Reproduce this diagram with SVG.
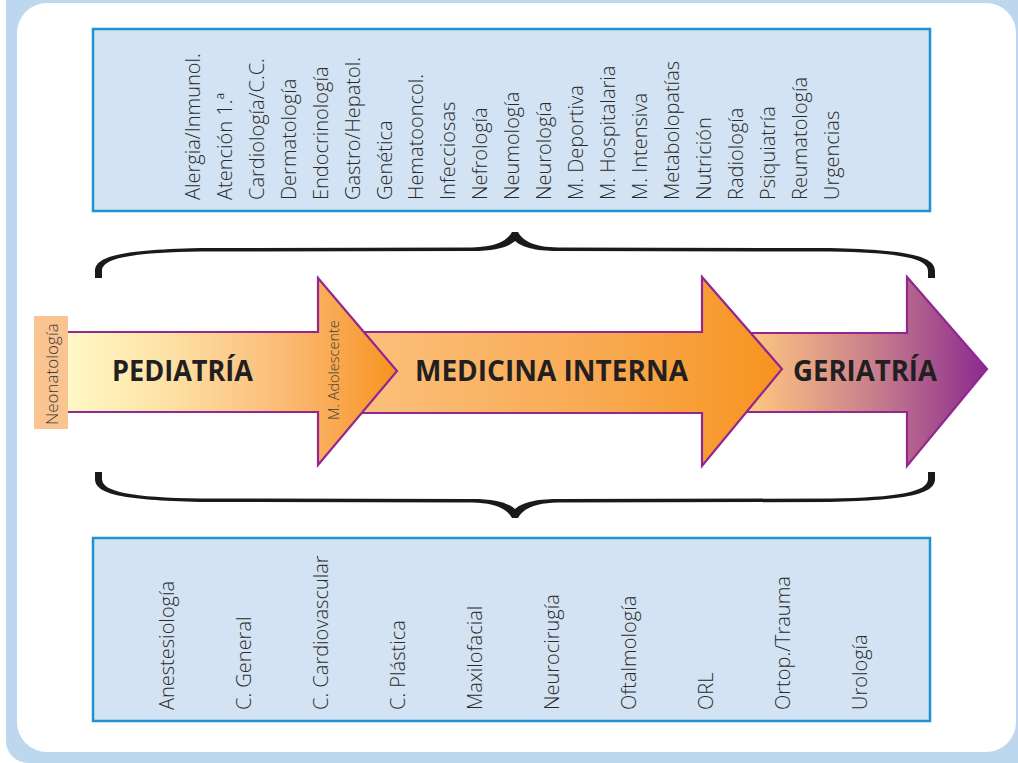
<svg xmlns="http://www.w3.org/2000/svg" width="1018" height="763" viewBox="0 0 1018 763">
  <style>
    .spec { font-family: "Open Sans", "Liberation Sans", sans-serif; font-size: 20px; font-weight: 300; fill: #2a2a2a; }
    .box { fill: #d3e3f3; stroke: #1f93d1; stroke-width: 2.5; }
    .arrow { stroke: #92278f; stroke-width: 2.2; stroke-linejoin: miter; }
    .big { font-family: "Open Sans", "Liberation Sans", sans-serif; font-size: 28px; font-weight: 700; fill: #231f20; }
    .small { font-family: "Open Sans", "Liberation Sans", sans-serif; font-weight: 300; fill: #3a3a3a; }
    .brace { fill: #1a1a1a; }
  </style>
  <defs>
    <linearGradient id="gPed" gradientUnits="userSpaceOnUse" x1="68" y1="0" x2="397" y2="0">
      <stop offset="0" stop-color="#fff8c6"/>
      <stop offset="0.3" stop-color="#fde2a5"/>
      <stop offset="0.6" stop-color="#fbc17f"/>
      <stop offset="0.82" stop-color="#f9a84f"/>
      <stop offset="1" stop-color="#f7921e"/>
    </linearGradient>
    <linearGradient id="gMed" gradientUnits="userSpaceOnUse" x1="360" y1="0" x2="782" y2="0">
      <stop offset="0" stop-color="#fbc07d"/>
      <stop offset="0.6" stop-color="#f8a84e"/>
      <stop offset="1" stop-color="#f7931e"/>
    </linearGradient>
    <linearGradient id="gGer" gradientUnits="userSpaceOnUse" x1="750" y1="0" x2="987" y2="0">
      <stop offset="0" stop-color="#fdc77d"/>
      <stop offset="0.25" stop-color="#e6a586"/>
      <stop offset="0.55" stop-color="#c47a8c"/>
      <stop offset="1" stop-color="#8b2a8f"/>
    </linearGradient>
    <path id="halfBrace" d="M95,278 L95,271 C95,256 122,250 200,248 L472,247.5 C496,247 507,241 512,232 L515,232 L515,241 C508,247 496,251 472,251 L200,251.5 C132,252.5 102,258 102,271 L102,278 Z"/>
  </defs>

  <!-- frame -->
  <g id="frame">
    <rect x="6" y="-30" width="1050" height="793" rx="22" fill="#bdd7ee"/>
    <rect x="17" y="3" width="999" height="749" rx="30" fill="#ffffff"/>
  </g>

  <!-- top box -->
  <g id="medical-specialties">
    <rect class="box" x="93" y="29" width="837" height="182"/>
    <text class="spec" transform="translate(200,200) rotate(-90)">Alergia/Inmunol.</text>
    <text class="spec" transform="translate(232,200) rotate(-90)">Atención 1.ª</text>
    <text class="spec" transform="translate(264,200) rotate(-90)">Cardiología/C.C.</text>
    <text class="spec" transform="translate(296,200) rotate(-90)">Dermatología</text>
    <text class="spec" transform="translate(328,200) rotate(-90)">Endocrinología</text>
    <text class="spec" transform="translate(360,200) rotate(-90)">Gastro/Hepatol.</text>
    <text class="spec" transform="translate(392,200) rotate(-90)">Genética</text>
    <text class="spec" transform="translate(423,200) rotate(-90)">Hematooncol.</text>
    <text class="spec" transform="translate(455,200) rotate(-90)">Infecciosas</text>
    <text class="spec" transform="translate(487,200) rotate(-90)">Nefrología</text>
    <text class="spec" transform="translate(519,200) rotate(-90)">Neumología</text>
    <text class="spec" transform="translate(551,200) rotate(-90)">Neurología</text>
    <text class="spec" transform="translate(583,200) rotate(-90)">M. Deportiva</text>
    <text class="spec" transform="translate(615,200) rotate(-90)">M. Hospitalaria</text>
    <text class="spec" transform="translate(647,200) rotate(-90)">M. Intensiva</text>
    <text class="spec" transform="translate(679,200) rotate(-90)">Metabolopatías</text>
    <text class="spec" transform="translate(711,200) rotate(-90)">Nutrición</text>
    <text class="spec" transform="translate(743,200) rotate(-90)">Radiología</text>
    <text class="spec" transform="translate(775,200) rotate(-90)">Psiquiatría</text>
    <text class="spec" transform="translate(807,200) rotate(-90)">Reumatología</text>
    <text class="spec" transform="translate(839,200) rotate(-90)">Urgencias</text>
  </g>

  <!-- bottom box -->
  <g id="surgical-specialties">
    <rect class="box" x="93" y="538" width="837" height="183"/>
    <text class="spec" transform="translate(174,710) rotate(-90)">Anestesiología</text>
    <text class="spec" transform="translate(251,710) rotate(-90)">C. General</text>
    <text class="spec" transform="translate(328,710) rotate(-90)">C. Cardiovascular</text>
    <text class="spec" transform="translate(405,710) rotate(-90)">C. Plástica</text>
    <text class="spec" transform="translate(482,710) rotate(-90)">Maxilofacial</text>
    <text class="spec" transform="translate(559,710) rotate(-90)">Neurocirugía</text>
    <text class="spec" transform="translate(636,710) rotate(-90)">Oftalmología</text>
    <text class="spec" transform="translate(713,710) rotate(-90)">ORL</text>
    <text class="spec" transform="translate(790,710) rotate(-90)">Ortop./Trauma</text>
    <text class="spec" transform="translate(867,710) rotate(-90)">Urología</text>
  </g>

  <!-- connectors: braces -->
  <g id="connectors">
    <g id="brace-top">
      <use href="#halfBrace" class="brace"/>
      <use href="#halfBrace" class="brace" transform="translate(1030,0) scale(-1,1)"/>
    </g>
    <g id="brace-bottom" transform="translate(0,750) scale(1,-1)">
      <use href="#halfBrace" class="brace"/>
      <use href="#halfBrace" class="brace" transform="translate(1030,0) scale(-1,1)"/>
    </g>
  </g>

  <!-- arrows -->
  <g id="geriatria">
    <path class="arrow" fill="url(#gGer)" d="M740,333 L907,333 L907,277 L987,369 L907,466 L907,412 L740,412 Z"/>
    <text class="big" x="793" y="381" textLength="144" lengthAdjust="spacingAndGlyphs">GERIATRÍA</text>
  </g>
  <g id="medicina-interna">
    <path class="arrow" fill="url(#gMed)" d="M345,332 L702,332 L702,277 L782,369 L702,466 L702,413 L345,413 Z"/>
    <text class="big" x="415" y="381" textLength="273" lengthAdjust="spacingAndGlyphs">MEDICINA INTERNA</text>
  </g>
  <g id="pediatria">
    <path class="arrow" fill="url(#gPed)" d="M60,332 L318,332 L318,278 L397,371 L318,465 L318,412 L60,412 Z"/>
    <text class="big" x="112" y="381" textLength="141" lengthAdjust="spacingAndGlyphs">PEDIATRÍA</text>
    <text class="small" font-size="14.5" transform="translate(339,420) rotate(-90)">M. Adolescente</text>
  </g>
  <g id="neonatologia">
    <rect x="34" y="316" width="34" height="113" fill="#f9c490"/>
    <text class="small" font-size="17" transform="translate(58,425) rotate(-90)">Neonatología</text>
  </g>
</svg>
